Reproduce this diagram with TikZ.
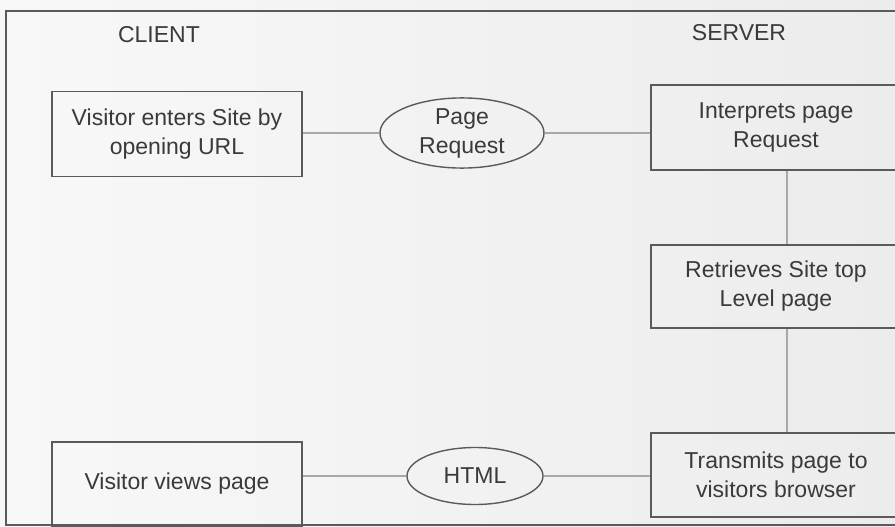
\documentclass[tikz,border=0pt]{standalone}
\usepackage{fontspec}
\setmainfont{Liberation Sans}
\usetikzlibrary{shapes.geometric,calc}
\definecolor{inkgray}{HTML}{3A3A3A}
\definecolor{boxline}{HTML}{5A5A5A}
\definecolor{linkline}{HTML}{A8A8A8}
\definecolor{paperL}{HTML}{F8F8F8}
\definecolor{paperR}{HTML}{ECECEC}
\tikzset{
  stepbox/.style={draw=boxline, line width=1.6pt, rectangle, minimum width=250pt,
    align=center, text=inkgray, inner sep=0pt},
  msgoval/.style={draw=boxline, line width=1.4pt, ellipse, align=center, text=inkgray,
    inner sep=0pt},
  link/.style={draw=linkline, line width=1.8pt},
  sidelabel/.style={text=inkgray, inner sep=0pt}
}
\begin{document}
\begin{tikzpicture}[x=1pt, y=-1pt, font=\fontsize{23}{29}\selectfont]
\useasboundingbox (0,0) rectangle (895,527);
\clip (0,0) rectangle (895,527);
\shade[left color=paperL, right color=paperR] (0,0) rectangle (895,527);
% outer frame
\draw[boxline, line width=1.6pt] (6,11) rectangle (910,525);

% column headings
\node[sidelabel] (client) at (159,35) {CLIENT};
\node[sidelabel] (server) at (739,33) {SERVER};

% client side
\node[stepbox, minimum height=85pt] (enter) at (177,134) {Visitor enters Site by\\opening URL};
\node[stepbox, minimum height=84pt] (view) at (177,484) {Visitor views page};

% messages
\node[msgoval, minimum width=164pt, minimum height=68pt] (req) at (462,133) {Page\\Request};
\node[msgoval, minimum width=136pt, minimum height=57pt] (html) at (475,476) {HTML};

% server side
\node[stepbox, minimum height=85pt] (interp) at (776,127.5) {Interprets page\\Request};
\node[stepbox, minimum height=83pt] (fetch) at (776,286.5) {Retrieves Site top\\Level page};
\node[stepbox, minimum height=84pt] (send) at (776,475) {Transmits page to\\visitors browser};

% connectors
\draw[link] (req.west) -- (req.west -| enter.east);
\draw[link] (req.east) -- (req.east -| interp.west);
\draw[link] ([xshift=11pt]interp.south) -- ([xshift=11pt]fetch.north);
\draw[link] ([xshift=11pt]fetch.south) -- ([xshift=11pt]send.north);
\draw[link] (html.east) -- (html.east -| send.west);
\draw[link] (html.west) -- (html.west -| view.east);
\end{tikzpicture}
\end{document}
